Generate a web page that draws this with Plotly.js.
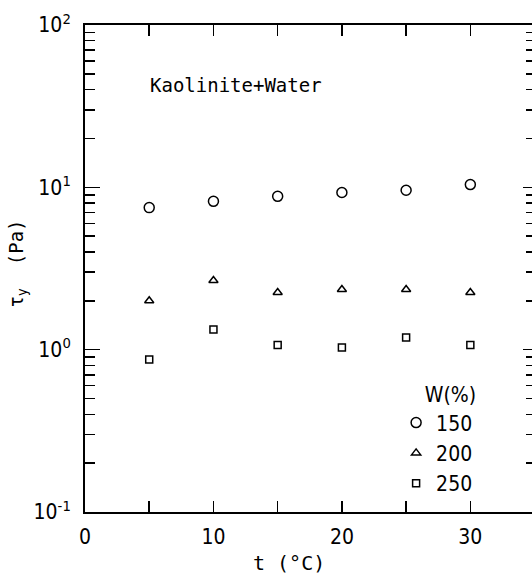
<!DOCTYPE html>
<html>
<head>
<meta charset="utf-8">
<script src="https://cdn.plot.ly/plotly-3.0.1.min.js"></script>
<style>html,body{margin:0;padding:0;background:#fff;}#chart{width:532px;height:575px;}</style>
</head>
<body>
<div id="chart"></div>
<script>
// Data
const temperature = [5, 10, 15, 20, 25, 30];          // t (°C)
const tau150 = [7.5, 8.2, 8.8, 9.3, 9.6, 10.4];       // W = 150 %
const tau200 = [2.0, 2.67, 2.25, 2.35, 2.35, 2.25];   // W = 200 %
const tau250 = [0.87, 1.33, 1.07, 1.03, 1.19, 1.07];  // W = 250 %
const seriesNames = ['150', '200', '250'];
const xTickVals = [0, 5, 10, 15, 20, 25, 30];
const xTickText = ['0', '', '10', '', '20', '', '30'];
const yTickVals = [0.1, 1, 10, 100];
const yTickText = ['10<sup>-1</sup>', '10<sup>0</sup>', '10<sup>1</sup>', '10<sup>2</sup>'];

const minorVals = [];
[0.1, 1, 10].forEach(d => { for (let k = 2; k <= 9; k++) minorVals.push(+(d * k).toPrecision(3)); });

const mk = (sym, size) => ({symbol: sym, size: size, color: 'black', line: {color: 'black', width: 1.5}});
const traces = [
  {x: temperature, y: tau150, name: seriesNames[0], mode: 'markers', type: 'scatter', marker: mk('circle-open', 10)},
  {x: temperature, y: tau200, name: seriesNames[1], mode: 'markers', type: 'scatter', marker: mk('triangle-up-open', 8)},
  {x: temperature, y: tau250, name: seriesNames[2], mode: 'markers', type: 'scatter', marker: mk('square-open', 7)},
  // empty trace so that the right-hand tick axis is drawn
  {x: [], y: [], yaxis: 'y2', mode: 'markers', type: 'scatter', showlegend: false, hoverinfo: 'skip'}
];

const condensed = '"DejaVu Sans Condensed", "DejaVu Sans", sans-serif';
const tickFont = {family: condensed, size: 21, color: 'black'};
const layout = {
  width: 532, height: 575,
  margin: {l: 85, r: 0, t: 25, b: 63},
  paper_bgcolor: 'white', plot_bgcolor: 'white',
  showlegend: true,
  legend: {
    x: 0.696, y: 0.281, xanchor: 'left', yanchor: 'top',
    bgcolor: 'rgba(0,0,0,0)', borderwidth: 0,
    font: {family: condensed, size: 21, color: 'black'},
    title: {text: 'W(%)', side: 'top right', font: {family: condensed, size: 21, color: 'black'}},
    tracegroupgap: 0, itemwidth: 30
  },
  xaxis: {
    range: [0, 34.8], showgrid: false, zeroline: false,
    showline: true, linecolor: 'black', linewidth: 2, mirror: 'ticks',
    ticks: 'inside', ticklen: 11, tickwidth: 1.5, tickcolor: 'black',
    tickmode: 'array', tickvals: xTickVals, ticktext: xTickText,
    tickfont: tickFont, ticklabelstandoff: 5
  },
  yaxis: {
    type: 'log', range: [-1, 2], showgrid: false, zeroline: false,
    showline: true, linecolor: 'black', linewidth: 2, mirror: false,
    ticks: 'inside', ticklen: 15, tickwidth: 1.5, tickcolor: 'black',
    tickmode: 'array', tickvals: yTickVals, ticktext: yTickText,
    tickfont: tickFont, ticklabelstandoff: 8,
    minor: {tickmode: 'array', tickvals: minorVals, ticks: 'inside', ticklen: 10, tickwidth: 1.5, tickcolor: 'black', showgrid: false}
  },
  yaxis2: {
    type: 'log', range: [-1, 2], overlaying: 'y', side: 'right', showgrid: false, zeroline: false,
    showline: false, showticklabels: false,
    ticks: 'inside', ticklen: 9, tickwidth: 1.5, tickcolor: 'black',
    tickmode: 'array', tickvals: yTickVals,
    minor: {tickmode: 'array', tickvals: minorVals, ticks: 'inside', ticklen: 6, tickwidth: 1.5, tickcolor: 'black', showgrid: false}
  },
  annotations: [
    {text: 'Kaolinite+Water', xref: 'paper', yref: 'paper', x: 0.141, y: 0.877, xanchor: 'left', yanchor: 'middle', showarrow: false,
     font: {family: '"DejaVu Sans Mono", monospace', size: 19, color: 'black'}},
    {text: 't (°C)', xref: 'paper', yref: 'paper', x: 0.457, y: -0.105, xanchor: 'center', yanchor: 'middle', showarrow: false,
     font: {family: '"DejaVu Sans Mono", monospace', size: 20, color: 'black'}},
    {text: 'τ<sub>y</sub>  (Pa)', xref: 'paper', yref: 'paper', x: -0.15, y: 0.51, xanchor: 'center', yanchor: 'middle', textangle: -90, showarrow: false,
     font: {family: '"DejaVu Sans Mono", monospace', size: 19, color: 'black'}}
  ]
};

Plotly.newPlot('chart', traces, layout, {displayModeBar: false, staticPlot: true});
</script>
</body>
</html>
